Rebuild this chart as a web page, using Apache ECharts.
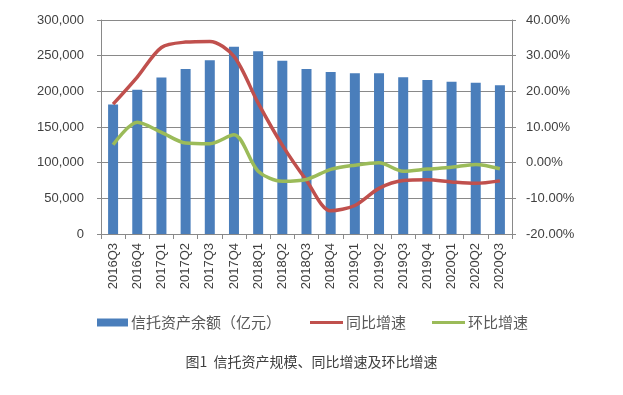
<!DOCTYPE html>
<html><head><meta charset="utf-8">
<script src="https://cdn.jsdelivr.net/npm/echarts@6/dist/echarts.min.js"></script>
<style>html,body{margin:0;padding:0;background:#fff}#c{width:623px;height:395px}</style>
</head><body><div id="c"></div>
<script>
const categories = ['2016Q3','2016Q4','2017Q1','2017Q2','2017Q3','2017Q4','2018Q1','2018Q2','2018Q3','2018Q4','2019Q1','2019Q2','2019Q3','2019Q4','2020Q1','2020Q2','2020Q3'];
const assetBalance = [181700,202200,219400,231400,243500,262500,256100,242700,231400,227000,225400,225300,219900,216000,213300,212200,208600];
const yoyGrowth = [16.4,24.0,32.3,33.8,34.0,29.8,16.7,4.9,-5.0,-13.5,-12.0,-7.2,-5.0,-4.8,-5.4,-5.8,-5.1];
const qoqGrowth = [5.0,11.3,8.5,5.5,5.3,7.8,-2.4,-5.2,-4.7,-1.9,-0.7,0.0,-2.4,-1.8,-1.3,-0.5,-1.7];
const leftTicks = {min:0, max:300000, interval:50000};
const rightTicks = {min:-20, max:40, interval:10};
const seriesNames = ['信托资产余额（亿元）','同比增速','环比增速'];
const captionText = '图1  信托资产规模、同比增速及环比增速';

const latin = '"Liberation Sans", Arial, sans-serif';
const cjk = '"Noto Sans CJK SC", sans-serif';
const chart = echarts.init(document.getElementById('c'), null, {renderer:'canvas'});
chart.setOption({
  animation:false,
  backgroundColor:'#fff',
  grid:{left:101, right:111, top:20, bottom:161},
  title:{text:captionText, left:'center', top:350, textStyle:{fontSize:14, fontWeight:'normal', color:'#404040', fontFamily:cjk}},
  legend:[
    {data:[seriesNames[0]], left:92, top:310, icon:'rect', itemWidth:31, itemHeight:8, itemGap:3, textStyle:{fontSize:15, color:'#595959', fontFamily:cjk, padding:[0,0,0,-2]}},
    {data:[seriesNames[1]], left:305, top:310, icon:'rect', itemWidth:33, itemHeight:3, textStyle:{fontSize:15, color:'#595959', fontFamily:cjk, padding:[0,0,0,-2]}},
    {data:[seriesNames[2]], left:427, top:310, icon:'rect', itemWidth:33, itemHeight:3, textStyle:{fontSize:15, color:'#595959', fontFamily:cjk, padding:[0,0,0,-2]}}
  ],
  xAxis:{type:'category', data:categories, boundaryGap:true,
    axisLine:{lineStyle:{color:'#898989', width:1}},
    axisTick:{show:true, length:5, alignWithLabel:false, lineStyle:{color:'#898989'}},
    axisLabel:{rotate:90, fontSize:13, color:'#404040', margin:9, fontFamily:latin, interval:0}},
  yAxis:[
    {type:'value', min:leftTicks.min, max:leftTicks.max, interval:leftTicks.interval, position:'left',
     axisLine:{show:true, lineStyle:{color:'#898989'}},
     axisTick:{show:true, length:4, lineStyle:{color:'#898989'}},
     splitLine:{show:true, lineStyle:{color:'#898989', width:1}},
     axisLabel:{fontSize:13, color:'#404040', margin:17, fontFamily:latin,
       formatter:v=>v.toLocaleString('en-US')}},
    {type:'value', min:rightTicks.min, max:rightTicks.max, interval:rightTicks.interval, position:'right',
     axisLine:{show:true, lineStyle:{color:'#898989'}},
     axisTick:{show:true, length:4, lineStyle:{color:'#898989'}},
     splitLine:{show:false},
     axisLabel:{fontSize:13, color:'#404040', margin:14, fontFamily:latin,
       formatter:v=>v.toFixed(2)+'%'}}
  ],
  series:[
    {name:seriesNames[0], type:'bar', data:assetBalance, yAxisIndex:0, barWidth:10,
     itemStyle:{color:'#4a7ebb'}},
    {name:seriesNames[1], type:'line', data:yoyGrowth, yAxisIndex:1, smooth:0.3, symbol:'none',
     lineStyle:{color:'#c0504d', width:3.5}, itemStyle:{color:'#c0504d'}},
    {name:seriesNames[2], type:'line', data:qoqGrowth, yAxisIndex:1, smooth:0.3, symbol:'none',
     lineStyle:{color:'#9bbb59', width:3.5}, itemStyle:{color:'#9bbb59'}}
  ]
});
</script></body></html>
